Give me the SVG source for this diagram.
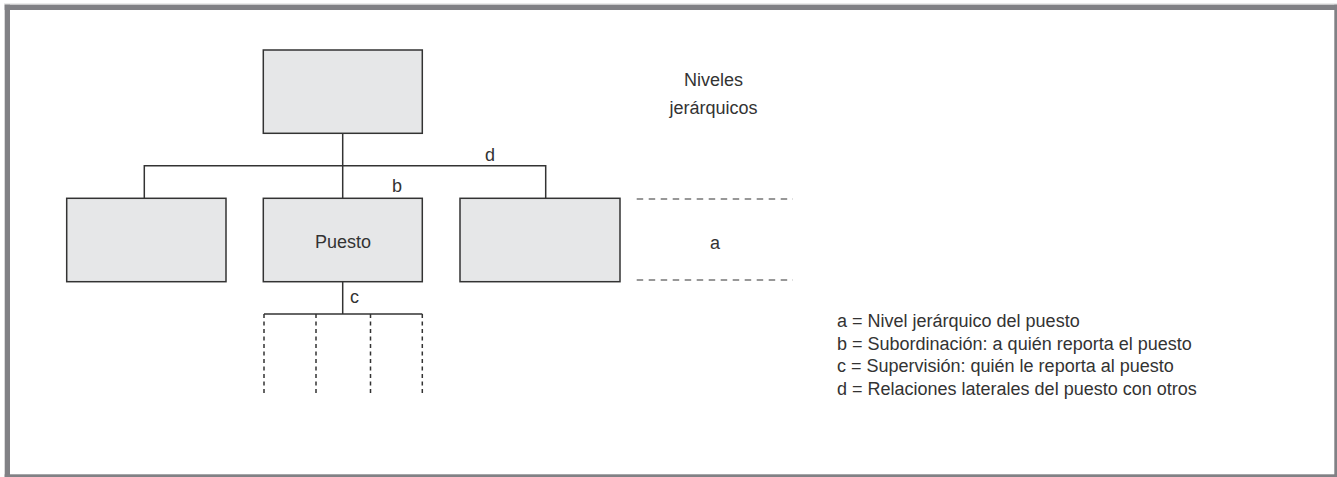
<svg xmlns="http://www.w3.org/2000/svg" width="1337" height="477" viewBox="0 0 1337 477">
<style>
.box{fill:#e6e7e8;stroke:#333;stroke-width:1.5}
.ln{stroke:#333;stroke-width:1.5;fill:none}
.dv{stroke:#333;stroke-width:1.5;fill:none;stroke-dasharray:4 3.5}
.dh{stroke:#333;stroke-width:1.2;fill:none;stroke-dasharray:6.5 5.5}
text{font-family:"Liberation Sans",Arial,sans-serif;font-size:18px;fill:#333}
.frame{fill:#818185}
</style>
<rect width="1337" height="477" fill="#fff"/>
<g id="frame">
<rect x="4" y="3.5" width="1333" height="1" fill="#d8d8d8"/>
<rect class="frame" x="4.7" y="4.7" width="1332.3" height="5.3"/>
<rect class="frame" x="4.7" y="4.7" width="5.3" height="472.3"/>
<rect class="frame" x="1334.3" y="4.7" width="2.7" height="472.3"/>
<rect class="frame" x="4.7" y="474.3" width="1332.3" height="2.7"/>
</g>
<g id="connectors">
<line class="ln" x1="342.7" y1="133" x2="342.7" y2="198"/>
<polyline class="ln" points="144.3,198 144.3,165.7 545.7,165.7 545.7,198"/>
<line class="ln" x1="342.7" y1="282" x2="342.7" y2="314"/>
<line class="ln" x1="264" y1="314" x2="422.3" y2="314"/>
<line class="dv" x1="264" y1="314" x2="264" y2="393"/>
<line class="dv" x1="316" y1="314" x2="316" y2="393"/>
<line class="dv" x1="370.5" y1="314" x2="370.5" y2="393"/>
<line class="dv" x1="422.3" y1="314" x2="422.3" y2="393"/>
<text x="397" y="191.7" text-anchor="middle">b</text>
<text x="490" y="161" text-anchor="middle">d</text>
<text x="354.5" y="303.3" text-anchor="middle">c</text>
</g>
<g id="node-top"><rect class="box" x="263.3" y="50" width="159" height="83.3"/></g>
<g id="node-left"><rect class="box" x="66.7" y="198.3" width="159.3" height="83.4"/></g>
<g id="node-puesto"><rect class="box" x="263.3" y="198.3" width="159" height="83.4"/>
<text x="343" y="248" text-anchor="middle">Puesto</text></g>
<g id="node-right"><rect class="box" x="460" y="198.3" width="160" height="83.4"/></g>
<g id="niveles">
<text x="713.5" y="85.7" text-anchor="middle">Niveles</text>
<text x="713.5" y="114" text-anchor="middle">jerárquicos</text>
<line class="dh" x1="636.7" y1="199" x2="793" y2="199"/>
<line class="dh" x1="636.7" y1="280" x2="793" y2="280"/>
<text x="715" y="249.3" text-anchor="middle">a</text>
</g>
<g id="legend">
<text x="837" y="326.7">a = Nivel jerárquico del puesto</text>
<text x="837" y="349.5">b = Subordinación: a quién reporta el puesto</text>
<text x="837" y="372.3">c = Supervisión: quién le reporta al puesto</text>
<text x="837" y="395">d = Relaciones laterales del puesto con otros</text>
</g>
</svg>
